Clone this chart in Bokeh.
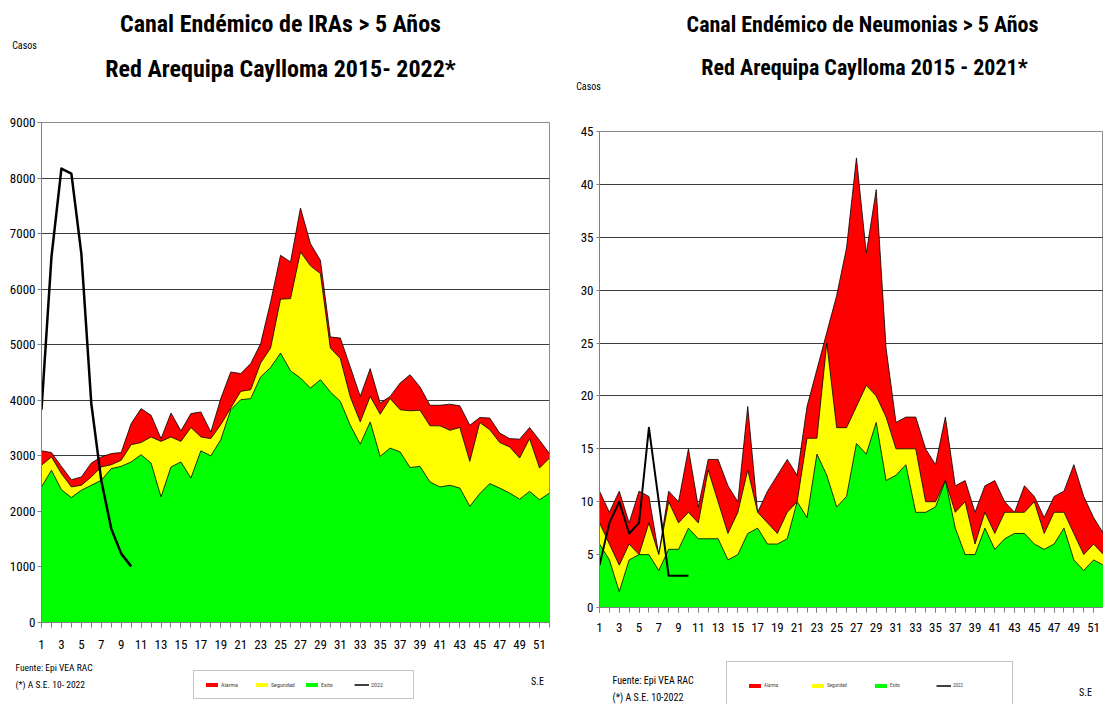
from bokeh.plotting import figure
from bokeh.models import Range1d, FixedTicker, Label, Legend, LegendItem
from bokeh.layouts import row, column
from bokeh.embed import file_html
from bokeh.resources import INLINE

weeks = list(range(1, 53))
odd_weeks = list(range(1, 52, 2))

# ---- IRAs > 5 años (left chart) ----
ira_alarma = [3090, 3060, 2810, 2570, 2620, 2870, 2980, 3040, 3060, 3580,
              3850, 3730, 3310, 3770, 3450, 3760, 3790, 3430, 4030, 4510,
              4480, 4660, 5020, 5770, 6610, 6490, 7460, 6820, 6520, 5140,
              5120, 4600, 4070, 4570, 3950, 4070, 4310, 4460, 4240, 3910,
              3910, 3930, 3900, 3550, 3690, 3680, 3410, 3310, 3300, 3510,
              3280, 3040]
ira_seguridad = [2830, 2980, 2680, 2440, 2470, 2620, 2800, 2840, 2920, 3200,
                 3240, 3340, 3260, 3340, 3260, 3510, 3340, 3310, 3560, 3860,
                 4160, 4190, 4670, 4940, 5820, 5830, 6670, 6420, 6280, 4940,
                 4750, 4060, 3610, 4070, 3750, 4030, 3830, 3810, 3820, 3540,
                 3540, 3460, 3510, 2900, 3600, 3470, 3240, 3160, 2960, 3310,
                 2780, 2960]
ira_exito = [2440, 2740, 2390, 2250, 2380, 2470, 2560, 2770, 2810, 2890,
             3020, 2870, 2260, 2800, 2890, 2600, 3090, 3000, 3290, 3830,
             4010, 4030, 4420, 4590, 4850, 4530, 4400, 4220, 4370, 4150,
             3980, 3550, 3210, 3610, 2990, 3140, 3070, 2790, 2810, 2530,
             2440, 2470, 2420, 2090, 2320, 2500, 2420, 2330, 2220, 2360,
             2210, 2330]
ira_2022 = [3830, 6580, 8170, 8080, 6640, 3940, 2560, 1690, 1240, 1010]
ira_ticks = list(range(0, 9001, 1000))

# ---- Neumonias > 5 años (right chart) ----
neu_alarma = [11, 9, 11, 8, 11, 10.5, 5, 11, 10, 15,
              9.5, 14, 14, 11.5, 10, 19, 9, 11, 12.5, 14,
              12.5, 19, 22.5, 26, 29.5, 34, 42.5, 33.5, 39.5, 24.5,
              17.5, 18, 18, 15, 13.5, 18, 11.5, 12, 9, 11.5,
              12, 10, 9, 11.5, 10.5, 8.5, 10.5, 11, 13.5, 10.5,
              8.5, 7]
neu_seguridad = [8, 6, 4, 6, 5, 8, 5, 10, 8, 9,
                 8, 13, 10, 7, 9, 13, 9, 8, 7, 9,
                 10, 16, 16, 25, 17, 17, 19, 21, 20, 18,
                 15, 15, 15, 10, 10, 12, 9, 10, 6, 9,
                 7, 9, 9, 9, 10, 7, 9, 9, 7, 5,
                 6, 5]
neu_exito = [6, 4.5, 1.5, 4.5, 5, 5, 3.5, 5.5, 5.5, 7.5,
             6.5, 6.5, 6.5, 4.5, 5, 7, 7.5, 6, 6, 6.5,
             10, 8.5, 14.5, 12.5, 9.5, 10.5, 15.5, 14.5, 17.5, 12,
             12.5, 13.5, 9, 9, 9.5, 12, 7.5, 5, 5, 7.5,
             5.5, 6.5, 7, 7, 6, 5.5, 6, 7.5, 4.5, 3.5,
             4.5, 4]
neu_2022 = [4, 8, 10, 7, 8, 17, 10, 3, 3, 3]
neu_ticks = list(range(0, 46, 5))

series_labels = ["Alarma", "Seguridad", "Exito", "2022"]

FONT = "Roboto Condensed, Liberation Sans"
RED, YELLOW, GREEN = "#FF0000", "#FFFF00", "#00FF00"


def blank(width, height):
    """A text-only panel whose data units are pixels (y downward)."""
    f = figure(width=width, height=height, output_backend="svg", toolbar_location=None,
               x_range=Range1d(0, width), y_range=Range1d(height, 0),
               min_border=0, x_axis_location=None, y_axis_location=None,
               frame_align=False)
    f.outline_line_color = None
    f.xgrid.visible = False
    f.ygrid.visible = False
    f.background_fill_color = "white"
    f.border_fill_color = "white"
    return f


def add_text(f, txt, x, y, size, bold=False, align="left"):
    f.add_layout(Label(x=x, y=y, text=txt, text_font=FONT, text_font_size=size,
                       text_font_style="bold" if bold else "normal",
                       text_align=align, text_baseline="middle", text_color="black"))


def make_chart(width, height, borders, ymax, yticks, alarma, seguridad, exito, cur,
               ytick_out, ystandoff, xstandoff, cur_width):
    bl, br, bt, bb = borders
    p = figure(width=width, height=height, output_backend="svg", toolbar_location=None,
               x_range=Range1d(1, 52), y_range=Range1d(0, ymax),
               min_border_left=bl, min_border_right=br, min_border_top=bt, min_border_bottom=bb,
               background_fill_color="white", border_fill_color="white", frame_align=False)
    p.outline_line_color = "#8c8c8c"
    p.xgrid.visible = False
    p.ygrid.ticker = FixedTicker(ticks=yticks)
    p.ygrid.grid_line_color = "#3c3c3c"
    p.ygrid.grid_line_width = 1

    p.xaxis.ticker = FixedTicker(ticks=odd_weeks, minor_ticks=weeks)
    p.yaxis.ticker = FixedTicker(ticks=yticks)
    for ax in (p.xaxis[0], p.yaxis[0]):
        ax.axis_line_color = "#808080"
        ax.major_tick_line_color = "#808080"
        ax.minor_tick_line_color = "#808080"
        ax.major_tick_in = 0
        ax.minor_tick_in = 0
        ax.major_label_text_font = FONT
        ax.major_label_text_font_size = "13px"
        ax.major_label_text_color = "black"
    p.xaxis.major_tick_out = 5
    p.xaxis.minor_tick_out = 5
    p.xaxis.major_label_standoff = xstandoff
    p.yaxis.major_tick_out = ytick_out
    p.yaxis.minor_tick_out = 0
    p.yaxis.major_label_standoff = ystandoff

    p.varea(x=weeks, y1=0, y2=alarma, fill_color=RED)
    p.line(weeks, alarma, line_color="black", line_width=0.8)
    p.varea(x=weeks, y1=0, y2=seguridad, fill_color=YELLOW)
    p.line(weeks, seguridad, line_color="black", line_width=0.8)
    p.varea(x=weeks, y1=0, y2=exito, fill_color=GREEN)
    p.line(weeks, exito, line_color="black", line_width=0.8)
    p.line(weeks[:len(cur)], cur, line_color="black", line_width=cur_width, line_join="round")
    return p


def make_footer(width, height, series, loc, pad, label_w, spacing, fsize, texts):
    f = blank(width, height)
    alarma, seguridad, exito, cur = series
    # hidden copies of the series: they only lend their style to the legend swatches
    r1 = f.varea(x=weeks, y1=0, y2=alarma, fill_color=RED, visible=False)
    r2 = f.varea(x=weeks, y1=0, y2=seguridad, fill_color=YELLOW, visible=False)
    r3 = f.varea(x=weeks, y1=0, y2=exito, fill_color=GREEN, visible=False)
    r4 = f.line(x=weeks[:len(cur)], y=cur, line_color="black", line_width=1.5, visible=False)
    items = [LegendItem(label=lab, renderers=[r]) for lab, r in
             zip(series_labels, [r1, r2, r3, r4])]
    leg = Legend(items=items, location=loc, orientation="horizontal",
                 padding=pad, spacing=spacing, label_width=label_w, label_standoff=2,
                 glyph_width=15, glyph_height=5, label_height=6, margin=0,
                 label_text_font=FONT, label_text_font_size=fsize,
                 inactive_fill_alpha=0,
                 border_line_color="#8c8c8c", border_line_width=1.5,
                 background_fill_color="white", background_fill_alpha=1)
    f.add_layout(leg, "center")
    for t in texts:
        add_text(f, *t)
    return f


# ---------------- left column (page x 0..560) ----------------
LW = 560
h1 = blank(LW, 112)
add_text(h1, "Canal Endémico de IRAs > 5 Años", 280, 23, "24px", True, "center")
add_text(h1, "Red Arequipa Caylloma 2015- 2022*", 280, 68, "24px", True, "center")
add_text(h1, "Casos", 24, 45, "10px", False, "center")

c1 = make_chart(LW, 540, (41, 11, 10, 30), 9000, ira_ticks,
                ira_alarma, ira_seguridad, ira_exito, ira_2022, 4, 2, 12, 2.5)

f1 = make_footer(LW, 52, (ira_alarma, ira_seguridad, ira_exito, ira_2022),
                 (193, 5), 10, 32, 1, "6px",
                 [("Fuente: Epi VEA RAC", 15, 15, "9.5px"),
                  ("(*) A S.E. 10- 2022", 15, 32, "9.5px"),
                  ("S.E", 537, 29, "10px", False, "center")])

# ---------------- right column (page x 560..1103) ----------------
RW = 543
h2 = blank(RW, 112)
add_text(h2, "Canal Endémico de Neumonias > 5 Años", 302, 24, "22px", True, "center")
add_text(h2, "Red Arequipa Caylloma 2015 - 2021*", 304, 67, "22px", True, "center")
add_text(h2, "Casos", 28, 86, "10px", False, "center")

c2 = make_chart(RW, 525, (39, 0, 19, 30), 45, neu_ticks,
                neu_alarma, neu_seguridad, neu_exito, neu_2022, 3, 3, 10, 2)

f2 = make_footer(RW, 67, (neu_alarma, neu_seguridad, neu_exito, neu_2022),
                 (166, -5), 20, 39, 7, "5px",
                 [("Fuente: Epi VEA RAC", 52, 43, "10px"),
                  ("(*) A S.E. 10-2022", 52, 60, "10px"),
                  ("S.E", 525, 55, "10px", False, "center")])

layout = row(column(h1, c1, f1, spacing=0), column(h2, c2, f2, spacing=0), spacing=0)
open("out.html", "w").write(file_html(layout, INLINE))
